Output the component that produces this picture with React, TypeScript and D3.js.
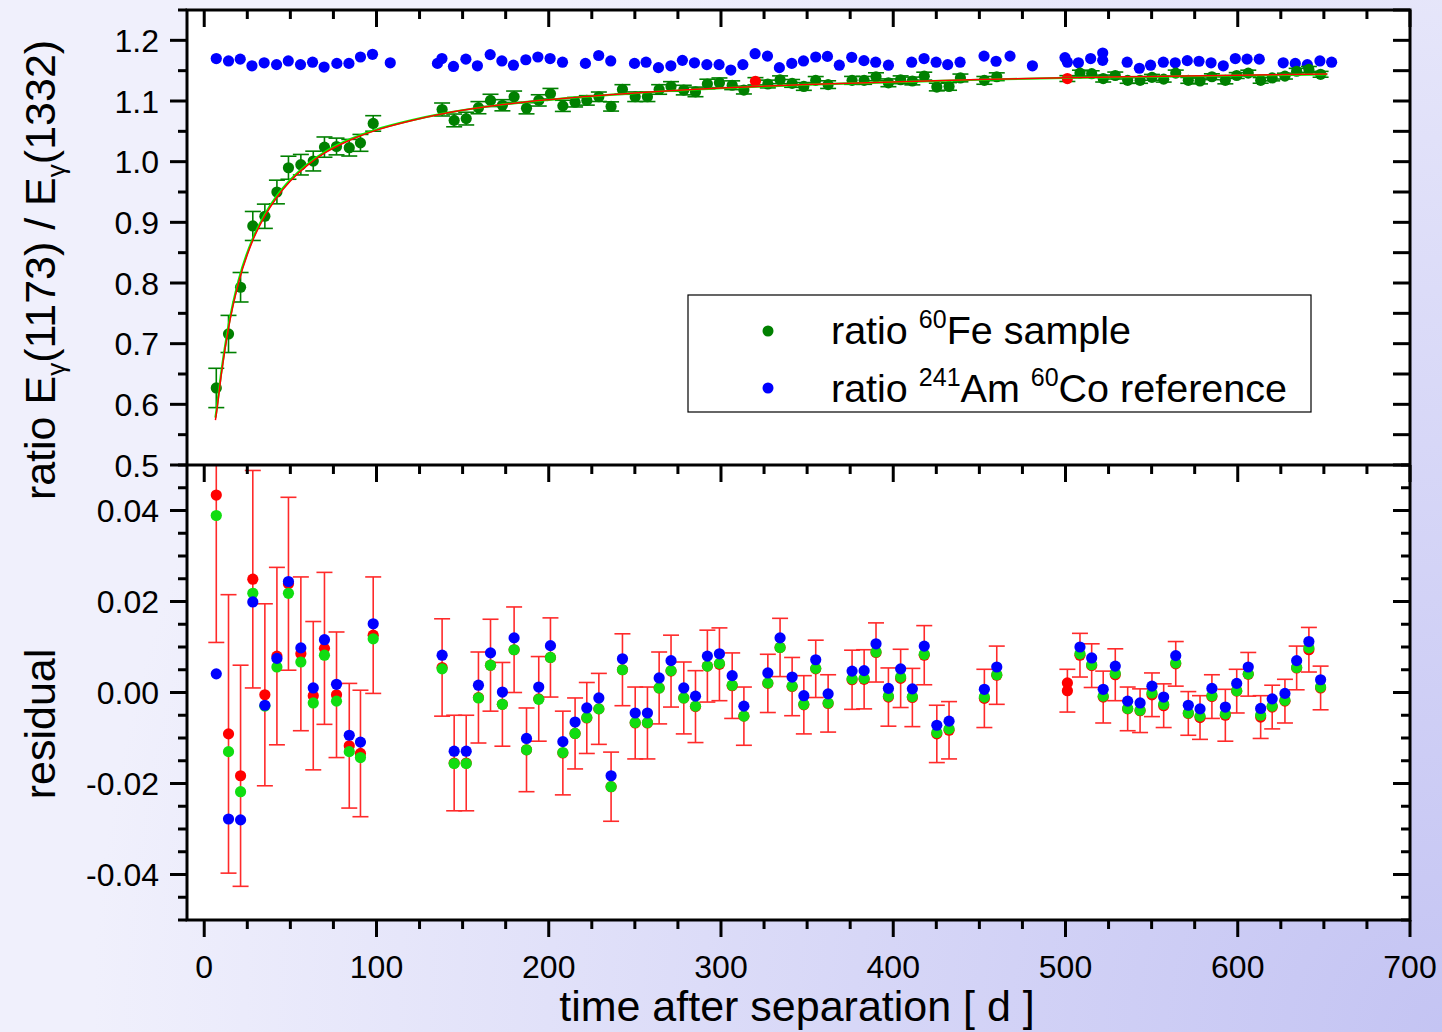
import React, { useEffect } from "react";
import * as d3 from "d3";

// ---------- DATA ----------
// time after separation [d] for the fitted measurements (residual panel)
const resT = [7.0, 14.1, 21.1, 28.2, 35.2, 42.2, 48.9, 56.1, 63.3, 69.8, 76.8, 84.2, 90.7, 98.1,
  138.1, 145.1, 152.1, 159.2, 166.2, 173.1, 179.9, 187.1, 194.2, 201.0, 208.2, 215.3, 222.1, 229.1, 236.2,
  242.8, 250.2, 257.3, 264.1, 271.0, 278.4, 285.2, 292.1, 299.1, 306.5, 313.3,
  327.2, 334.3, 341.3, 348.1, 355.0, 362.2,
  376.1, 383.1, 390.0, 397.2, 404.3, 411.1, 418.0, 425.3, 432.4,
  452.9, 460.1,
  508.4, 515.2, 521.9, 528.9, 536.1, 543.3, 550.2, 557.0, 564.0, 571.3, 578.1, 585.0, 592.8, 599.4,
  606.1, 613.3, 620.0, 627.4, 634.2, 641.3, 648.1];
const resRed = [0.0434, -0.0091, -0.0183, 0.0249, -0.0005, 0.0080, 0.0239, 0.0085, -0.0007, 0.0097, -0.0005, -0.0117, -0.0134, 0.0126,
  0.0055, -0.0155, -0.0155, -0.0011, 0.0060, -0.0026, 0.0094, -0.0126, -0.0014, 0.0077, -0.0133, -0.0090, -0.0056, -0.0036, -0.0207,
  0.0050, -0.0067, -0.0067, 0.0010, 0.0047, -0.0012, -0.0031, 0.0058, 0.0062, 0.0015, -0.0052,
  0.0020, 0.0099, 0.0013, -0.0027, 0.0052, -0.0024,
  0.0028, 0.0029, 0.0088, -0.0010, 0.0031, -0.0011, 0.0082, -0.0091, -0.0083,
  -0.0013, 0.0038,
  0.0082, 0.0059, -0.0010, 0.0039, -0.0036, -0.0040, -0.0005, -0.0029, 0.0063, -0.0046, -0.0055, -0.0009, -0.0050, 0.0003,
  0.0040, -0.0054, -0.0032, -0.0019, 0.0054, 0.0094, 0.0010];
const resGreen = [0.0389, -0.0130, -0.0218, 0.0218, -0.0030, 0.0056, 0.0218, 0.0067, -0.0023, 0.0082, -0.0019, -0.0130, -0.0143, 0.0118,
  0.0052, -0.0156, -0.0156, -0.0012, 0.0060, -0.0026, 0.0094, -0.0126, -0.0015, 0.0077, -0.0132, -0.0090, -0.0055, -0.0036, -0.0207,
  0.0050, -0.0066, -0.0066, 0.0010, 0.0048, -0.0012, -0.0030, 0.0058, 0.0064, 0.0016, -0.0052,
  0.0021, 0.0099, 0.0014, -0.0026, 0.0053, -0.0023,
  0.0030, 0.0031, 0.0089, -0.0008, 0.0034, -0.0009, 0.0084, -0.0088, -0.0080,
  -0.0010, 0.0039,
  0.0085, 0.0061, -0.0008, 0.0042, -0.0035, -0.0039, -0.0001, -0.0026, 0.0065, -0.0045, -0.0052, -0.0007, -0.0047, 0.0004,
  0.0041, -0.0050, -0.0030, -0.0017, 0.0055, 0.0098, 0.0012];
const resBlue = [0.0041, -0.0278, -0.0280, 0.0199, -0.0028, 0.0075, 0.0244, 0.0098, 0.0010, 0.0116, 0.0018, -0.0094, -0.0109, 0.0151,
  0.0082, -0.0129, -0.0129, 0.0016, 0.0087, 0.0001, 0.0120, -0.0101, 0.0012, 0.0103, -0.0108, -0.0065, -0.0034, -0.0012, -0.0183,
  0.0074, -0.0045, -0.0045, 0.0032, 0.0070, 0.0010, -0.0008, 0.0080, 0.0085, 0.0037, -0.0030,
  0.0043, 0.0120, 0.0034, -0.0007, 0.0072, -0.0003,
  0.0047, 0.0048, 0.0107, 0.0009, 0.0052, 0.0008, 0.0102, -0.0072, -0.0063,
  0.0007, 0.0056,
  0.0100, 0.0076, 0.0007, 0.0058, -0.0019, -0.0023, 0.0014, -0.0010, 0.0081, -0.0028, -0.0036, 0.0009, -0.0032, 0.0020,
  0.0056, -0.0035, -0.0014, -0.0002, 0.0070, 0.0112, 0.0028];
const resErr = [0.0324, 0.0306, 0.0243, 0.0239, 0.0200, 0.0195, 0.0190, 0.0169, 0.0163, 0.0167, 0.0138, 0.0137, 0.0139, 0.0128,
  0.0107, 0.0105, 0.0105, 0.0100, 0.0101, 0.0092, 0.0094, 0.0092, 0.0093, 0.0087, 0.0092, 0.0078, 0.0078, 0.0078, 0.0076,
  0.0079, 0.0079, 0.0079, 0.0079, 0.0079, 0.0079, 0.0079, 0.0079, 0.0080, 0.0072, 0.0064,
  0.0064, 0.0064, 0.0064, 0.0064, 0.0063, 0.0063,
  0.0065, 0.0065, 0.0065, 0.0064, 0.0064, 0.0064, 0.0065, 0.0063, 0.0063,
  0.0064, 0.0064,
  0.0048, 0.0048, 0.0057, 0.0057, 0.0048, 0.0048, 0.0048, 0.0048, 0.0049, 0.0048, 0.0048, 0.0048, 0.0057, 0.0048,
  0.0048, 0.0047, 0.0048, 0.0048, 0.0048, 0.0049, 0.0048];

// excluded (red) residual points
const exclResT = [501.1, 501.1];
const exclRes = [0.0021, 0.0004];
const exclResErr = [0, 0.0047];

// 60Fe sample ratio (top panel, green)
const sampleT = [7.0, 14.1, 21.1, 28.2, 35.2, 42.2, 48.9, 56.1, 63.3, 69.8, 76.8, 84.2, 90.7, 98.1,
  138.1, 145.1, 152.1, 159.2, 166.2, 173.1, 179.9, 187.1, 194.2, 201.0, 208.2, 215.3, 222.1, 229.1, 236.2,
  242.8, 250.2, 257.3, 264.1, 271.0, 278.4, 285.2, 292.1, 299.1, 306.5, 313.3,
  327.2, 334.3, 341.3, 348.1, 355.0, 362.2,
  376.1, 383.1, 390.0, 397.2, 404.3, 411.1, 418.0, 425.3, 432.4, 439.0,
  452.9, 460.1,
  508.4, 515.2, 521.9, 528.9, 536.1, 543.3, 550.2, 557.0, 564.0, 571.3, 578.1, 585.0, 592.8, 599.4,
  606.1, 613.3, 620.0, 627.4, 634.2, 641.3, 648.1];
const sampleRatio = [0.627, 0.716, 0.793, 0.894, 0.910, 0.950, 0.990, 0.995, 1.001, 1.024, 1.025, 1.023, 1.031, 1.063,
  1.086, 1.068, 1.071, 1.089, 1.101, 1.093, 1.107, 1.088, 1.101, 1.112, 1.092, 1.098, 1.101, 1.107, 1.091,
  1.119, 1.107, 1.107, 1.119, 1.124, 1.118, 1.115, 1.128, 1.130, 1.126, 1.118,
  1.128, 1.135, 1.129, 1.124, 1.134, 1.127,
  1.134, 1.134, 1.140, 1.130, 1.135, 1.133, 1.141, 1.123, 1.124, 1.138,
  1.134, 1.140,
  1.146, 1.145, 1.137, 1.142, 1.134, 1.134, 1.139, 1.136, 1.146, 1.134, 1.133, 1.140, 1.134, 1.142,
  1.146, 1.134, 1.138, 1.141, 1.149, 1.152, 1.144];
const sampleErr = [0.0324, 0.0306, 0.0243, 0.0239, 0.0200, 0.0195, 0.0190, 0.0169, 0.0163, 0.0167, 0.0138, 0.0137, 0.0139, 0.0128,
  0.0107, 0.0105, 0.0105, 0.0100, 0.0101, 0.0092, 0.0094, 0.0092, 0.0093, 0.0087, 0.0092, 0.0078, 0.0078, 0.0078, 0.0076,
  0.0079, 0.0079, 0.0079, 0.0079, 0.0079, 0.0079, 0.0079, 0.0079, 0.0080, 0.0072, 0.0064,
  0.0064, 0.0064, 0.0064, 0.0064, 0.0063, 0.0063,
  0.0065, 0.0065, 0.0065, 0.0064, 0.0064, 0.0064, 0.0065, 0.0063, 0.0063, 0.0064,
  0.0064, 0.0064,
  0.0048, 0.0048, 0.0057, 0.0057, 0.0048, 0.0048, 0.0048, 0.0048, 0.0049, 0.0048, 0.0048, 0.0048, 0.0057, 0.0048,
  0.0048, 0.0047, 0.0048, 0.0048, 0.0048, 0.0049, 0.0048];

// excluded sample points (red, top panel)
const exclT = [320.0, 501.1];
const exclRatio = [1.1325, 1.137];
const exclErr = [0.0060, 0.0048];

// 241Am / 60Co reference ratio (top panel, blue)
const refT = [7.0, 14.1, 20.9, 27.7, 34.8, 42.0, 48.8, 55.9, 62.9, 69.6, 77.0, 84.0, 90.7, 97.7, 108.0,
  135.4, 138.0, 144.7, 151.9, 158.6, 166.0, 172.8, 179.5, 186.7, 193.7, 200.8, 208.0, 221.3, 229.0, 236.0,
  249.8, 256.5, 263.7, 270.9, 277.6, 284.6, 291.8, 298.9, 305.7, 312.7, 319.8, 327.0, 333.9, 341.1, 347.9,
  355.0, 361.8, 368.7, 375.9, 383.0, 389.8, 397.2, 410.7, 417.9, 424.9, 431.6, 438.8, 452.7, 459.7, 467.8,
  480.8, 499.7, 501.1, 507.5, 514.6, 521.6, 521.6, 535.8, 542.9, 549.4, 556.8, 563.7, 570.7, 577.5, 584.5,
  591.6, 598.6, 605.4, 612.5, 626.4, 633.4, 640.4, 647.7, 654.5];
const refRatio = [1.170, 1.166, 1.169, 1.158, 1.163, 1.160, 1.166, 1.160, 1.164, 1.156, 1.162, 1.162, 1.1725, 1.177, 1.163,
  1.162, 1.170, 1.157, 1.169, 1.158, 1.1765, 1.166, 1.159, 1.168, 1.1725, 1.170, 1.164, 1.162, 1.175, 1.166,
  1.162, 1.164, 1.155, 1.158, 1.167, 1.163, 1.160, 1.160, 1.151, 1.160, 1.178, 1.174, 1.155, 1.162, 1.166,
  1.1725, 1.1735, 1.159, 1.172, 1.1665, 1.164, 1.159, 1.164, 1.170, 1.164, 1.160, 1.164, 1.174, 1.1655, 1.174,
  1.158, 1.1715, 1.164, 1.163, 1.170, 1.179, 1.167, 1.164, 1.154, 1.159, 1.164, 1.163, 1.1665, 1.1655, 1.163,
  1.158, 1.170, 1.169, 1.169, 1.163, 1.162, 1.160, 1.166, 1.164];

// fitted curves
const fitT = [6.5, 7, 10, 14, 20, 28, 35, 42, 50, 60, 70, 80, 90, 100, 120, 140, 170, 200, 250, 300, 350, 400, 450, 500, 550, 600, 652];
const fitGreen = [0.578, 0.588, 0.655, 0.728, 0.805, 0.872, 0.912, 0.943, 0.970, 0.996, 1.016, 1.031, 1.043, 1.053, 1.068, 1.080,
  1.093, 1.102, 1.113, 1.121, 1.127, 1.131, 1.135, 1.138, 1.140, 1.142, 1.144];
const fitRed = [0.574, 0.5835, 0.651, 0.724, 0.801, 0.869, 0.9095, 0.9405, 0.968, 0.9943, 1.0144, 1.0296, 1.042, 1.052, 1.0675, 1.0798,
  1.093, 1.1022, 1.1133, 1.1214, 1.1274, 1.1315, 1.1353, 1.1384, 1.1405, 1.1425, 1.1445];

// tick labels
const xTicks = [0, 100, 200, 300, 400, 500, 600, 700];
const yTopTicks = [0.5, 0.6, 0.7, 0.8, 0.9, 1.0, 1.1, 1.2];
const yBotTicks = [-0.04, -0.02, 0.0, 0.02, 0.04];

// ---------- LAYOUT ----------
const W = 1442, H = 1032;
const X0 = 187, X1 = 1410, Y0 = 10, YM = 465, Y1 = 920;
const FONT = "'Liberation Sans', Arial, Helvetica, sans-serif";
const DKGREEN = "#008000";
const LTGREEN = "#11dd11";
const BLUE = "#0000ff";
const RED = "#ff0000";
const ERRRED = "#ff2a2a";
const R = 5.6;
const CAP = 8;

export default function App() {
  useEffect(() => {
    document.body.style.margin = "0";
  }, []);

  const x = d3.scaleLinear().domain([-10, 700]).range([X0, X1]);
  const yT = d3.scaleLinear().domain([0.5, 1.25]).range([YM, Y0]);
  const yB = d3.scaleLinear().domain([-0.05, 0.05]).range([Y1, YM]);

  const lineT = (vals: number[]) =>
    d3.line<number>().x((_, i) => x(fitT[i])).y((d) => yT(d)).curve(d3.curveMonotoneX)(vals) || "";

  const xMinor = d3.range(0, 701, 25);
  const yTopMinor = d3.range(0, 16).map((i) => 0.5 + i * 0.05);
  const yBotMinor = d3.range(0, 21).map((i) => -0.05 + i * 0.005);
  const isMult = (v: number, s: number) => Math.abs(v / s - Math.round(v / s)) < 1e-6;

  const errBar = (cx: number, y1: number, y2: number, color: string, key: string, w: number) => (
    <g key={key} stroke={color} strokeWidth={w} fill="none">
      <line x1={cx} x2={cx} y1={y1} y2={y2} />
      <line x1={cx - CAP} x2={cx + CAP} y1={y1} y2={y1} />
      <line x1={cx - CAP} x2={cx + CAP} y1={y2} y2={y2} />
    </g>
  );

  return (
    <svg width={W} height={H} style={{ position: "absolute", left: 0, top: 0, display: "block" }} fontFamily={FONT}>
      <defs>
        <radialGradient id="bg" gradientUnits="userSpaceOnUse" cx={W} cy={H} r={1350}>
          <stop offset="0" stopColor="#c4c4f3" />
          <stop offset="0.55" stopColor="#dcdcf8" />
          <stop offset="1" stopColor="#f0f0fc" />
        </radialGradient>
        <clipPath id="clipTop">
          <rect x={X0} y={Y0} width={X1 - X0} height={YM - Y0} />
        </clipPath>
        <clipPath id="clipBot">
          <rect x={X0} y={YM} width={X1 - X0} height={Y1 - YM} />
        </clipPath>
      </defs>
      <rect x={0} y={0} width={W} height={H} fill="url(#bg)" />
      <rect x={X0} y={Y0} width={X1 - X0} height={Y1 - Y0} fill="#ffffff" />

      {/* ---------- TOP PANEL ---------- */}
      <g clipPath="url(#clipTop)">
        {refT.map((t, i) => (
          <circle key={"ref" + i} cx={x(t)} cy={yT(refRatio[i])} r={R} fill={BLUE} />
        ))}
        {sampleT.map((t, i) =>
          errBar(x(t), yT(sampleRatio[i] + sampleErr[i]), yT(sampleRatio[i] - sampleErr[i]), DKGREEN, "se" + i, 1.6)
        )}
        {exclT.map((t, i) =>
          errBar(x(t), yT(exclRatio[i] + exclErr[i]), yT(exclRatio[i] - exclErr[i]), DKGREEN, "xe" + i, 1.6)
        )}
        {exclT.map((t, i) => (
          <circle key={"xp" + i} cx={x(t)} cy={yT(exclRatio[i])} r={R} fill={RED} />
        ))}
        {sampleT.map((t, i) => (
          <circle key={"sp" + i} cx={x(t)} cy={yT(sampleRatio[i])} r={R} fill={DKGREEN} />
        ))}
        <path d={lineT(fitGreen)} fill="none" stroke="#00ff00" strokeWidth={2.2} />
        <path d={lineT(fitRed)} fill="none" stroke={RED} strokeWidth={1.5} />
      </g>

      {/* legend */}
      <rect x={688} y={295} width={623} height={117} fill="#ffffff" stroke="#000" strokeWidth={1.2} />
      <circle cx={768} cy={331} r={5.5} fill={DKGREEN} />
      <circle cx={768} cy={388} r={5.5} fill={BLUE} />
      <text x={831} y={344} fontSize={39.5} fill="#000">
        ratio <tspan fontSize={25} dy={-16}>60</tspan>
        <tspan dy={16}>Fe sample</tspan>
      </text>
      <text x={831} y={402} fontSize={39.5} fill="#000">
        ratio <tspan fontSize={25} dy={-16}>241</tspan>
        <tspan dy={16}>Am </tspan>
        <tspan fontSize={25} dy={-16}>60</tspan>
        <tspan dy={16}>Co reference</tspan>
      </text>

      {/* ---------- BOTTOM PANEL ---------- */}
      <g clipPath="url(#clipBot)">
        {resT.map((t, i) =>
          errBar(x(t), yB(resRed[i] + resErr[i]), yB(resRed[i] - resErr[i]), ERRRED, "re" + i, 1.6)
        )}
        {exclResT.map((t, i) =>
          exclResErr[i] > 0
            ? errBar(x(t), yB(exclRes[i] + exclResErr[i]), yB(exclRes[i] - exclResErr[i]), ERRRED, "xre" + i, 1.6)
            : null
        )}
        {resT.map((t, i) => (
          <circle key={"rr" + i} cx={x(t)} cy={yB(resRed[i])} r={R} fill={RED} />
        ))}
        {exclResT.map((t, i) => (
          <circle key={"xr" + i} cx={x(t)} cy={yB(exclRes[i])} r={R} fill={RED} />
        ))}
        {resT.map((t, i) => (
          <circle key={"rg" + i} cx={x(t)} cy={yB(resGreen[i])} r={R} fill={LTGREEN} />
        ))}
        {resT.map((t, i) => (
          <circle key={"rb" + i} cx={x(t)} cy={yB(resBlue[i])} r={R} fill={BLUE} />
        ))}
      </g>

      {/* ---------- TICKS ---------- */}
      <g stroke="#000" strokeWidth={3}>
        {xMinor.map((t) => {
          const major = t % 100 === 0;
          const px = x(t);
          return (
            <g key={"xt" + t}>
              <line x1={px} x2={px} y1={Y0} y2={Y0 + (major ? 17 : 9)} />
              <line x1={px} x2={px} y1={YM} y2={YM + (major ? 17 : 9)} />
              <line x1={px} x2={px} y1={Y1} y2={Y1 + (major ? 17 : 9)} />
            </g>
          );
        })}
        {yTopMinor.map((v, i) => {
          const major = isMult(v, 0.1);
          const py = yT(v);
          return (
            <g key={"yt" + i}>
              <line x1={X0 - (major ? 17 : 9)} x2={X0} y1={py} y2={py} />
              <line x1={X1 - 17} x2={X1} y1={py} y2={py} />
            </g>
          );
        })}
        {yBotMinor.map((v, i) => {
          const major = isMult(v, 0.02);
          const py = yB(v);
          return (
            <g key={"yb" + i}>
              <line x1={X0 - (major ? 17 : 9)} x2={X0} y1={py} y2={py} />
              <line x1={X1 - (major ? 17 : 9)} x2={X1} y1={py} y2={py} />
            </g>
          );
        })}
      </g>

      {/* frames */}
      <rect x={X0} y={Y0} width={X1 - X0} height={Y1 - Y0} fill="none" stroke="#000" strokeWidth={3} />
      <line x1={X0} x2={X1} y1={YM} y2={YM} stroke="#000" strokeWidth={3} />

      {/* tick labels */}
      <g fontSize={32} fill="#000">
        {yTopTicks.map((v) => (
          <text key={"ylt" + v} x={159} y={yT(v)} dy="0.36em" textAnchor="end">
            {v.toFixed(1)}
          </text>
        ))}
        {yBotTicks.map((v) => (
          <text key={"ylb" + v} x={159} y={yB(v)} dy="0.36em" textAnchor="end">
            {v.toFixed(2)}
          </text>
        ))}
        {xTicks.map((t) => (
          <text key={"xl" + t} x={x(t)} y={978} textAnchor="middle">
            {t}
          </text>
        ))}
      </g>

      {/* axis titles */}
      <text x={797} y={1021} fontSize={43} textAnchor="middle" fill="#000">
        time after separation [ d ]
      </text>
      <text transform="translate(55,270) rotate(-90)" fontSize={43} textAnchor="middle" fill="#000">
        ratio E<tspan fontSize={26} dy={10}>γ</tspan>
        <tspan dy={-10}>(1173) / E</tspan>
        <tspan fontSize={26} dy={10}>γ</tspan>
        <tspan dy={-10}>(1332)</tspan>
      </text>
      <text transform="translate(55,724) rotate(-90)" fontSize={43} textAnchor="middle" fill="#000">
        residual
      </text>
    </svg>
  );
}
